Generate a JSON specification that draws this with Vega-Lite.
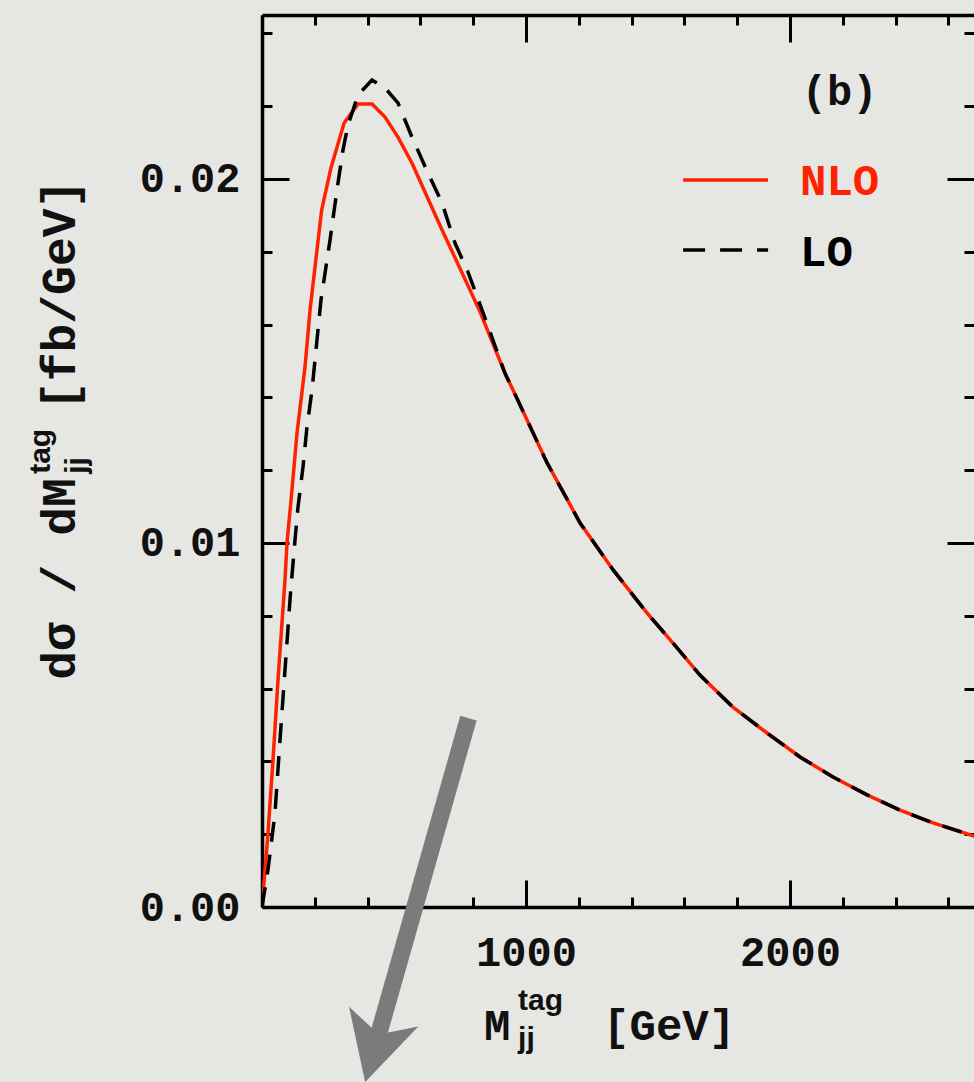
{
  "$schema": "https://vega.github.io/schema/vega-lite/v6.json",
  "width": 712,
  "height": 892,
  "autosize": {"type": "none"},
  "padding": {"left": 262, "top": 15, "right": 0, "bottom": 175},
  "background": "#e6e7e3",
  "config": {"view": {"stroke": null}},
  "datasets": {
    "nlo": [
      {"m": 0, "v": 0}, {"m": 22.7, "v": 0.00203}, {"m": 41.7, "v": 0.00404}, {"m": 60.6, "v": 0.00624},
      {"m": 87, "v": 0.00898}, {"m": 94.7, "v": 0.0100}, {"m": 110, "v": 0.01118}, {"m": 132.6, "v": 0.01302},
      {"m": 163, "v": 0.01484}, {"m": 182, "v": 0.0164}, {"m": 207, "v": 0.01797}, {"m": 226, "v": 0.01915},
      {"m": 261, "v": 0.0203}, {"m": 311, "v": 0.02154}, {"m": 364, "v": 0.02206}, {"m": 417, "v": 0.02206},
      {"m": 466, "v": 0.0217}, {"m": 515, "v": 0.02115}, {"m": 568, "v": 0.02044}, {"m": 682, "v": 0.0186},
      {"m": 758, "v": 0.01742}, {"m": 826, "v": 0.01635}, {"m": 920, "v": 0.01467}, {"m": 951, "v": 0.0142},
      {"m": 1080, "v": 0.0122}, {"m": 1205, "v": 0.01055}, {"m": 1330, "v": 0.00926}, {"m": 1458, "v": 0.00808},
      {"m": 1557, "v": 0.00725}, {"m": 1659, "v": 0.00637}, {"m": 1784, "v": 0.00549}, {"m": 1913, "v": 0.00478},
      {"m": 2038, "v": 0.00412}, {"m": 2163, "v": 0.00357}, {"m": 2292, "v": 0.00308}, {"m": 2417, "v": 0.00266},
      {"m": 2542, "v": 0.00231}, {"m": 2697, "v": 0.00195}
    ],
    "lo": [
      {"m": 0, "v": 0}, {"m": 22.7, "v": 0.00102}, {"m": 49.2, "v": 0.00258}, {"m": 68.2, "v": 0.00459},
      {"m": 87.1, "v": 0.00651}, {"m": 108, "v": 0.00863}, {"m": 125, "v": 0.01008}, {"m": 136.4, "v": 0.01099},
      {"m": 155.3, "v": 0.01209}, {"m": 170.5, "v": 0.01319}, {"m": 189.4, "v": 0.0142}, {"m": 223.5, "v": 0.01668},
      {"m": 257.6, "v": 0.01832}, {"m": 284, "v": 0.0197}, {"m": 306.8, "v": 0.0208}, {"m": 325.8, "v": 0.02148},
      {"m": 363.6, "v": 0.02231}, {"m": 416.7, "v": 0.02272}, {"m": 466, "v": 0.0225}, {"m": 515, "v": 0.02209},
      {"m": 568, "v": 0.02115}, {"m": 629, "v": 0.02016}, {"m": 682, "v": 0.01934}, {"m": 731, "v": 0.01824},
      {"m": 780, "v": 0.01745}, {"m": 826, "v": 0.01655}, {"m": 920, "v": 0.01467}, {"m": 951, "v": 0.0142},
      {"m": 1080, "v": 0.0122}, {"m": 1205, "v": 0.01055}, {"m": 1330, "v": 0.00926}, {"m": 1458, "v": 0.00808},
      {"m": 1557, "v": 0.00725}, {"m": 1659, "v": 0.00637}, {"m": 1784, "v": 0.00549}, {"m": 1913, "v": 0.00478},
      {"m": 2038, "v": 0.00412}, {"m": 2163, "v": 0.00357}, {"m": 2292, "v": 0.00308}, {"m": 2417, "v": 0.00266},
      {"m": 2542, "v": 0.00231}, {"m": 2697, "v": 0.00195}
    ],
    "legend": [
      {"s": "NLO", "x": 1595, "x2": 1917, "y": 0.01997, "tx": 2038, "ty": 0.01992},
      {"s": "LO", "x": 1595, "x2": 1917, "y": 0.01805, "tx": 2038, "ty": 0.01797}
    ],
    "panel": [{"label": "(b)", "x": 2045, "y": 0.02239}],
    "arrow": [{"x": 782, "y": 0.00519, "x2": 442, "y2": -0.00349, "hx": 425.8, "hy": -0.00391}],
    "xtitleMain": [{"t": "M", "x": 841, "y": -0.003654}, {"t": "[GeV]", "x": 1292, "y": -0.003654}],
    "xtitleScript": [{"t": "tag", "x": 970, "y": -0.00283}, {"t": "jj", "x": 970, "y": -0.003874}],
    "ytitleMain": [{"t": "dσ / dM", "x": -708, "y": 0.00624}, {"t": "[fb/GeV]", "x": -708, "y": 0.01365}],
    "ytitleScript": [{"t": "tag", "x": -803, "y": 0.0119}, {"t": "jj", "x": -667, "y": 0.0119}]
  },
  "layer": [
    {
      "data": {"name": "nlo"},
      "mark": {"type": "line", "color": "#ff2200", "strokeWidth": 3.5, "clip": true},
      "encoding": {
        "x": {
          "field": "m", "type": "quantitative",
          "scale": {"domain": [0, 2697], "nice": false, "zero": false},
          "axis": {
            "orient": "bottom",
            "values": [0, 200, 400, 600, 800, 1000, 1200, 1400, 1600, 1800, 2000, 2200, 2400, 2600],
            "tickSize": {"condition": {"test": "datum.value % 1000 === 0", "value": -27}, "value": -10},
            "labelExpr": "datum.value === 1000 || datum.value === 2000 ? format(datum.value, 'd') : ''",
            "labelPadding": 52,
            "labelFont": "Liberation Mono", "labelFontWeight": "bold", "labelFontSize": 42, "labelColor": "#111111",
            "labelOverlap": false, "labelFlush": false, "labelBaseline": "top",
            "domainColor": "#000000", "domainWidth": 3.5, "tickColor": "#000000", "tickWidth": 3,
            "grid": false, "title": null
          }
        },
        "y": {
          "field": "v", "type": "quantitative",
          "scale": {"domain": [0, 0.024505], "nice": false, "zero": false},
          "axis": {
            "orient": "left",
            "values": [0, 0.002, 0.004, 0.006, 0.008, 0.01, 0.012, 0.014, 0.016, 0.018, 0.02, 0.022, 0.024],
            "tickSize": {"condition": {"test": "abs(datum.value * 100 - round(datum.value * 100)) < 0.000001", "value": -27}, "value": -10},
            "labelExpr": "abs(datum.value * 100 - round(datum.value * 100)) < 0.000001 ? format(datum.value, '.2f') : ''",
            "labelPadding": 49,
            "labelFont": "Liberation Mono", "labelFontWeight": "bold", "labelFontSize": 42, "labelColor": "#111111",
            "labelOverlap": false, "labelFlush": false, "labelBaseline": "middle",
            "domainColor": "#000000", "domainWidth": 3.5, "tickColor": "#000000", "tickWidth": 3,
            "grid": false, "title": null
          }
        }
      }
    },
    {
      "data": {"name": "lo"},
      "mark": {"type": "line", "color": "#000000", "strokeWidth": 3.5, "strokeDash": [20, 13], "clip": true},
      "encoding": {
        "x": {"field": "m", "type": "quantitative", "axis": null},
        "y": {"field": "v", "type": "quantitative", "axis": null}
      }
    },
    {
      "data": {"name": "legend"},
      "mark": {"type": "rule", "strokeWidth": 3.5},
      "encoding": {
        "x": {
          "field": "x", "type": "quantitative",
          "axis": {
            "orient": "top",
            "values": [0, 200, 400, 600, 800, 1000, 1200, 1400, 1600, 1800, 2000, 2200, 2400, 2600],
            "tickSize": {"condition": {"test": "datum.value % 1000 === 0", "value": -27}, "value": -10},
            "labels": false, "title": null, "grid": false,
            "domainColor": "#000000", "domainWidth": 3.5, "tickColor": "#000000", "tickWidth": 3
          }
        },
        "x2": {"field": "x2"},
        "y": {
          "field": "y", "type": "quantitative",
          "axis": {
            "orient": "right",
            "values": [0.002, 0.004, 0.006, 0.008, 0.01, 0.012, 0.014, 0.016, 0.018, 0.02, 0.022, 0.024],
            "tickSize": {"condition": {"test": "abs(datum.value * 100 - round(datum.value * 100)) < 0.000001", "value": -27}, "value": -10},
            "labels": false, "title": null, "grid": false, "domain": false,
            "tickColor": "#000000", "tickWidth": 3
          }
        },
        "color": {"field": "s", "type": "nominal", "scale": {"domain": ["NLO", "LO"], "range": ["#ff2200", "#000000"]}, "legend": null},
        "strokeDash": {"field": "s", "type": "nominal", "scale": {"domain": ["NLO", "LO"], "range": [[1, 0], [22, 15]]}, "legend": null}
      }
    },
    {
      "data": {"name": "legend"},
      "mark": {"type": "text", "font": "Liberation Mono", "fontWeight": "bold", "fontSize": 44, "align": "left", "baseline": "middle"},
      "encoding": {
        "x": {"field": "tx", "type": "quantitative", "axis": null},
        "y": {"field": "ty", "type": "quantitative", "axis": null},
        "text": {"field": "s"},
        "color": {"field": "s", "type": "nominal", "legend": null}
      }
    },
    {
      "data": {"name": "panel"},
      "mark": {"type": "text", "font": "Liberation Mono", "fontWeight": "bold", "fontSize": 42, "align": "left", "baseline": "middle", "color": "#111111"},
      "encoding": {
        "x": {"field": "x", "type": "quantitative", "axis": null},
        "y": {"field": "y", "type": "quantitative", "axis": null},
        "text": {"field": "label"}
      }
    },
    {
      "data": {"name": "xtitleMain"},
      "mark": {"type": "text", "font": "Liberation Mono", "fontWeight": "bold", "fontSize": 44, "align": "left", "baseline": "alphabetic", "color": "#111111"},
      "encoding": {
        "x": {"field": "x", "type": "quantitative", "axis": null},
        "y": {"field": "y", "type": "quantitative", "axis": null},
        "text": {"field": "t"}
      }
    },
    {
      "data": {"name": "xtitleScript"},
      "mark": {"type": "text", "font": "Liberation Sans", "fontWeight": "bold", "fontSize": 30, "align": "left", "baseline": "alphabetic", "color": "#111111"},
      "encoding": {
        "x": {"field": "x", "type": "quantitative", "axis": null},
        "y": {"field": "y", "type": "quantitative", "axis": null},
        "text": {"field": "t"}
      }
    },
    {
      "data": {"name": "ytitleMain"},
      "mark": {"type": "text", "font": "Liberation Mono", "fontWeight": "bold", "fontSize": 48, "align": "left", "baseline": "alphabetic", "angle": 270, "color": "#111111"},
      "encoding": {
        "x": {"field": "x", "type": "quantitative", "axis": null},
        "y": {"field": "y", "type": "quantitative", "axis": null},
        "text": {"field": "t"}
      }
    },
    {
      "data": {"name": "ytitleScript"},
      "mark": {"type": "text", "font": "Liberation Sans", "fontWeight": "bold", "fontSize": 30, "align": "left", "baseline": "alphabetic", "angle": 270, "color": "#111111"},
      "encoding": {
        "x": {"field": "x", "type": "quantitative", "axis": null},
        "y": {"field": "y", "type": "quantitative", "axis": null},
        "text": {"field": "t"}
      }
    },
    {
      "data": {"name": "arrow"},
      "mark": {"type": "rule", "color": "#7b7b7b", "strokeWidth": 17, "strokeCap": "butt"},
      "encoding": {
        "x": {"field": "x", "type": "quantitative", "axis": null},
        "y": {"field": "y", "type": "quantitative", "axis": null},
        "x2": {"field": "x2"},
        "y2": {"field": "y2"}
      }
    },
    {
      "data": {"name": "arrow"},
      "mark": {"type": "point", "shape": "M0,0.944L-1,-0.944L-0.236,-0.556L0.236,-0.556L1,-0.944Z", "size": 5184, "angle": 15.8, "filled": true, "color": "#7b7b7b", "opacity": 1, "strokeWidth": 0},
      "encoding": {
        "x": {"field": "hx", "type": "quantitative", "axis": null},
        "y": {"field": "hy", "type": "quantitative", "axis": null}
      }
    }
  ],
  "resolve": {"axis": {"x": "independent", "y": "independent"}}
}
